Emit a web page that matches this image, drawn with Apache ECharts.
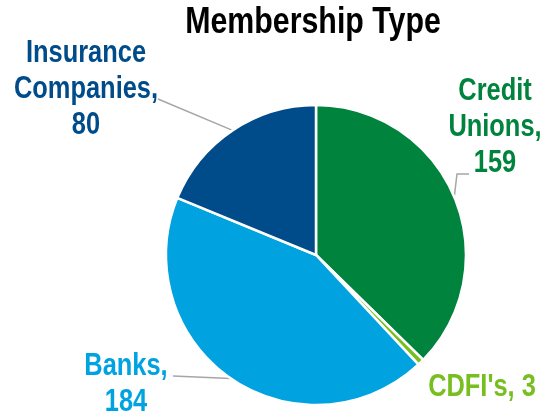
<!DOCTYPE html>
<html>
<head>
<meta charset="utf-8">
<script src="https://cdn.jsdelivr.net/npm/echarts@6/dist/echarts.min.js"></script>
<style>
  html, body { margin: 0; padding: 0; background: #ffffff; }
  #chart { width: 546px; height: 416px; }
</style>
</head>
<body>
<div id="chart"></div>
<script>
// Membership counts by type
const categories = ["Credit\nUnions,", "CDFI's,", "Banks,", "Insurance\nCompanies,"];
const values = [159, 3, 184, 80];
const colors = ["#00843D", "#78BE20", "#00A3E0", "#004C8A"];
const labelBreak = [true, false, true, true];

// label boxes: [centre x, top y]
const labelSpots = [[495, 73], [482, 369], [126, 348], [86, 35]];
// leader line bends, relative to the label box (the first point comes from the pie)
const leaderBends = [
  [[-38, 101], [-26, 101]],
  null,
  [[47, 28]],
  [[72, 64]]
];

const FONT = "'Liberation Sans', Arial, sans-serif";
const NARROW = 0.82; // horizontal squeeze giving a narrow bold face

const chart = echarts.init(document.getElementById('chart'), null, { renderer: 'canvas' });

const data = categories.map((name, i) => ({
  name: name,
  value: values[i],
  itemStyle: { color: colors[i] },
  label: { color: colors[i] },
  labelLine: { show: leaderBends[i] !== null }
}));

chart.setOption({
  animation: false,
  graphic: [{
    type: 'text',
    x: 313,
    y: 4,
    scaleX: NARROW,
    style: {
      text: 'Membership Type',
      fontFamily: FONT,
      fontWeight: 'bold',
      fontSize: 37,
      fill: '#000000',
      align: 'center',
      verticalAlign: 'top'
    }
  }],
  series: [{
    type: 'pie',
    center: [316, 255],
    radius: [0, 150],
    startAngle: 90,
    clockwise: true,
    avoidLabelOverlap: false,
    itemStyle: { borderColor: '#ffffff', borderWidth: 2.5 },
    label: {
      show: true,
      fontFamily: FONT,
      fontWeight: 'bold',
      fontSize: 31,
      lineHeight: 36,
      align: 'center',
      formatter: (p) => p.name + (labelBreak[p.dataIndex] ? '\n' : ' ') + p.value
    },
    labelLine: {
      show: true,
      length: 10,
      length2: 10,
      lineStyle: { color: '#A6A6A6', width: 1.5 }
    },
    labelLayout: (params) => {
      const i = params.dataIndex;
      const s = labelSpots[i];
      const out = { x: s[0], y: s[1], align: 'center', verticalAlign: 'top' };
      if (leaderBends[i] && params.labelLinePoints) {
        const start = params.labelLinePoints[0];
        out.labelLinePoints = [start].concat(
          leaderBends[i].map((d) => [s[0] + d[0], s[1] + d[1]])
        );
      }
      return out;
    },
    data: data
  }]
});

// squeeze the slice labels horizontally around their centre line
try {
  const seriesData = chart.getModel().getSeriesByIndex(0).getData();
  seriesData.each((idx) => {
    const el = seriesData.getItemGraphicEl(idx);
    const txt = el && el.getTextContent();
    if (txt) {
      txt.scaleX = NARROW;
      txt.markRedraw();
    }
  });
  chart.getZr().refreshImmediately();
} catch (e) { /* keep default label widths */ }
</script>
</body>
</html>
